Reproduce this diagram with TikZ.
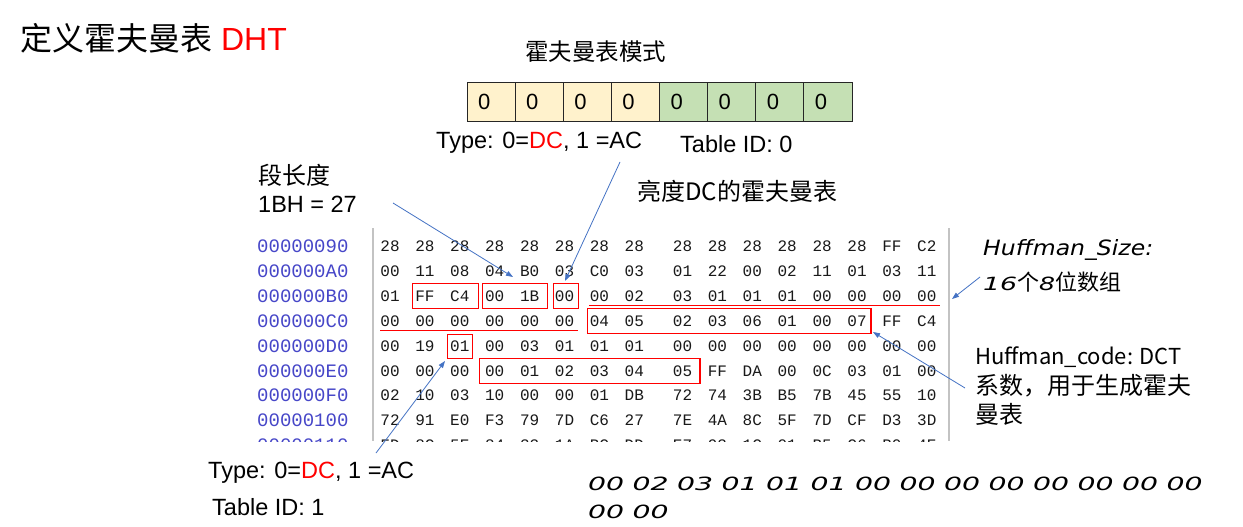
\documentclass[tikz,border=0pt]{standalone}
\usepackage{fontspec}
\setmainfont{Liberation Sans}
\newfontfamily\cjk{Noto Sans CJK SC}
\newfontfamily\hexf{Liberation Mono}
\newfontfamily\handf{DejaVu Sans}
\newcommand{\hand}{\handf\itshape}
\usetikzlibrary{arrows.meta,calc}
\definecolor{arrowblue}{RGB}{68,114,196}
\definecolor{addrblue}{RGB}{70,70,200}
\definecolor{bityellow}{RGB}{255,242,204}
\definecolor{bitgreen}{RGB}{197,224,180}
\definecolor{sepgray}{RGB}{195,195,195}
\newcommand{\hw}[2]{\resizebox{#1pt}{13.5pt}{\hand #2}}
\begin{document}
\begin{tikzpicture}[x=1pt,y=-1pt,
  cjkt/.style={font=\cjk\fontsize{24}{28}\selectfont, inner sep=0pt, anchor=west},
  lat/.style={font=\fontsize{23.5}{27}\selectfont, inner sep=0pt, anchor=west},
  bitbox/.style={draw=black!85, line width=0.8pt, minimum height=39pt, inner xsep=11pt, inner ysep=0pt, text width=26.125pt, align=left, font=\fontsize{22}{26}\selectfont},
  hexb/.style={font=\hexf\fontsize{16}{16}\selectfont, text=black!90, inner sep=0pt},
  addr/.style={font=\hexf\fontsize{19}{19}\selectfont, text=addrblue, inner sep=0pt, anchor=west},
  redbox/.style={draw=red, line width=1.1pt},
  sepline/.style={draw=sepgray, line width=1.5pt},
  arr/.style={draw=arrowblue, line width=0.8pt, -{Triangle[length=7pt,width=5pt]}},
  handt/.style={inner sep=0pt, anchor=west},
]
\useasboundingbox (0,0) rectangle (1243,527);
\fill[white] (0,0) rectangle (1243,527);

% title
\node[inner sep=0pt, anchor=west, font=\fontsize{32}{36}\selectfont] (title) at (20,38) {{\cjk 定义霍夫曼表} \textcolor{red}{DHT}};

% mode bits
\node[cjkt, font=\cjk\fontsize{23.5}{28}\selectfont] (mode) at (525,52) {霍夫曼表模式};
\foreach \i in {0,...,3}
  \node[bitbox, fill=bityellow] (b\i) at ({467+48.125*(\i+0.5)},102) {0};
\foreach \i in {4,...,7}
  \node[bitbox, fill=bitgreen] (b\i) at ({467+48.125*(\i+0.5)},102) {0};
\node[lat] (type0) at (436,143) {Type: 0=\textcolor{red}{DC}, 1 =AC};
\node[lat] (tid0) at (680,144) {Table ID: 0};

% labels
\node[cjkt] (seglen) at (258,175) {段长度};
\node[lat] (seglenv) at (258,204) {1BH = 27};
\node[cjkt] (lumdc) at (637,191) {亮度DC的霍夫曼表};

% hex dump
\begin{scope}
\clip (240,225) rectangle (960,441);
\draw[sepline] (373,228) -- (373,441);
\draw[sepline] (949,228) -- (949,441);
\foreach \addr/\bytes [count=\r from 0] in {
  00000090/{28,28,28,28,28,28,28,28,28,28,28,28,28,28,FF,C2},
  000000A0/{00,11,08,04,B0,03,C0,03,01,22,00,02,11,01,03,11},
  000000B0/{01,FF,C4,00,1B,00,00,02,03,01,01,01,00,00,00,00},
  000000C0/{00,00,00,00,00,00,04,05,02,03,06,01,00,07,FF,C4},
  000000D0/{00,19,01,00,03,01,01,01,00,00,00,00,00,00,00,00},
  000000E0/{00,00,00,00,01,02,03,04,05,FF,DA,00,0C,03,01,00},
  000000F0/{02,10,03,10,00,00,01,DB,72,74,3B,B5,7B,45,55,10},
  00000100/{72,91,E0,F3,79,7D,C6,27,7E,4A,8C,5F,7D,CF,D3,3D},
  00000110/{FD,8C,5E,84,33,1A,BC,DD,E7,93,1C,01,B5,C6,B0,4E}}
{
  \pgfmathsetmacro\yy{246.5+24.85*\r}
  \node[addr] (a\r) at (257,\yy) {\addr};
  \foreach \b [count=\c from 0] in \bytes {
    \pgfmathsetmacro\xx{ifthenelse(\c<8, 390+34.9*\c, 682.5+34.9*(\c-8))}
    \node[hexb] (h\r-\c) at (\xx,\yy) {\b};
  }
}
\end{scope}

% red highlights
\draw[redbox] ($(h2-1.center)+(-12,-12.5)$) rectangle ($(h2-2.center)+(19,12.5)$);
\draw[redbox] ($(h2-3.center)+(-12,-12.5)$) rectangle ($(h2-4.center)+(17.5,12.5)$);
\draw[redbox] ($(h2-5.center)+(-11,-12.5)$) rectangle ($(h2-5.center)+(14,12.5)$);
\draw[redbox] ($(h2-6.center)+(-10.5,9.5)$) -- ($(h2-15.center)+(13,9.5)$);
\draw[redbox] ($(h3-0.center)+(-10,9)$) -- ($(h3-5.center)+(13.5,9)$);
\draw[redbox] ($(h3-6.center)+(-11.5,-12.5)$) rectangle ($(h3-13.center)+(14,12.5)$);
\draw[redbox] ($(h4-2.center)+(-12.5,-11.5)$) rectangle ($(h4-2.center)+(12.5,12.5)$);
\draw[redbox] ($(h5-3.center)+(-15.5,-12.5)$) rectangle ($(h5-8.center)+(17.5,12.5)$);

% right annotations
\node[handt] (hsize) at (983,250) {\resizebox{170pt}{16pt}{\hand Huffman\_Size:}};
\node[handt] (hsize2) at (983,282) {\hw{34}{16}{\cjk\fontsize{22}{26}\selectfont 个}\hw{16}{8}{\cjk\fontsize{22}{26}\selectfont 位数组}};
\node[cjkt, font=\cjk\fontsize{22}{28}\selectfont] (hcode1) at (975,357) {Huffman\_code: DCT};
\node[cjkt] (hcode2) at (975,386) {系数，用于生成霍夫};
\node[cjkt] (hcode3) at (975,414) {曼表};

% bottom labels
\node[lat] (type1) at (208,473) {Type: 0=\textcolor{red}{DC}, 1 =AC};
\node[lat] (tid1) at (212,507) {Table ID: 1};
\foreach \t [count=\k from 0] in {00,02,03,01,01,01,00,00,00,00,00,00,00,00}
  \node[handt] (s\k) at ({588+44.5*\k},484) {\hw{36}{\t}};
\node[handt] (s14) at (588,512) {\hw{36}{00}};
\node[handt] (s15) at (632.5,512) {\hw{36}{00}};

% arrows
\coordinate (p1s) at (393,203); \coordinate (p1e) at (513,277);
\coordinate (p2s) at (620,162); \coordinate (p2e) at (565,281);
\coordinate (p3s) at (980,277); \coordinate (p3e) at (952,299);
\coordinate (p4s) at (965,388); \coordinate (p4e) at (873,332);
\coordinate (p5s) at (376,453); \coordinate (p5e) at (445,361);
\draw[arr] (p1s) -- (p1e);
\draw[arr] (p2s) -- (p2e);
\draw[arr] (p3s) -- (p3e);
\draw[arr] (p4s) -- (p4e);
\draw[arr] (p5s) -- (p5e);
\end{tikzpicture}
\end{document}
